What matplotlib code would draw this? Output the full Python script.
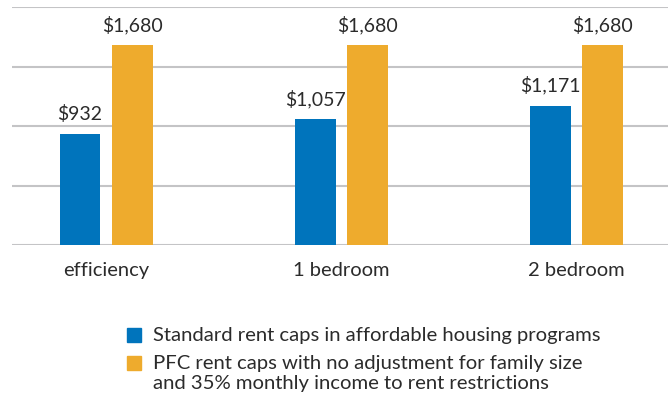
import matplotlib
matplotlib.use("Agg")
import matplotlib.pyplot as plt
import numpy as np
from matplotlib.patches import Rectangle

plt.rcParams["font.family"] = ["Lato", "DejaVu Sans"]

CATEGORIES = ["efficiency", "1 bedroom", "2 bedroom"]
STANDARD = [932, 1057, 1171]
PFC = [1680, 1680, 1680]
SERIES_LABELS = [
    "Standard rent caps in affordable housing programs",
    "PFC rent caps with no adjustment for family size\nand 35% monthly income to rent restrictions",
]
BLUE = "#0074BC"
ORANGE = "#EEAB2D"
TEXT = "#2b2b2b"

W, H = 668, 400
fig = plt.figure(figsize=(W / 100, H / 100), dpi=100)
ax = fig.add_axes([0.018, 0.3875, 0.982, 0.595])

x = np.arange(len(CATEGORIES))
w = 0.174
off = 0.111
b1 = ax.bar(x - off, STANDARD, width=w, color=BLUE, zorder=3)
b2 = ax.bar(x + off, PFC, width=w, color=ORANGE, zorder=3)

for bars, vals in [(b1, STANDARD), (b2, PFC)]:
    for rect, v in zip(bars, vals):
        ax.annotate(f"${v:,}", (rect.get_x() + rect.get_width() / 2, v),
                    xytext=(0, 8), textcoords="offset points",
                    ha="center", va="bottom", fontsize=14, color=TEXT)

ax.set_ylim(0, 2000)
ax.set_xlim(-0.40, 2.39)
ax.set_yticks([0, 500, 1000, 1500, 2000])
ax.set_yticklabels([])
ax.yaxis.grid(True, color="#c4c4c6", linewidth=1.5, zorder=0)
ax.tick_params(axis="y", length=0)
ax.set_xticks(x)
ax.set_xticklabels(CATEGORIES, fontsize=14.5, color=TEXT)
ax.tick_params(axis="x", length=0, pad=12)
for s in ax.spines.values():
    s.set_visible(False)
ax.set_axisbelow(True)

# legend drawn by hand: square + label, in pixel terms
sq = 14
legend_rows = [(BLUE, SERIES_LABELS[0], 328), (ORANGE, SERIES_LABELS[1], 356)]
for color, label, top in legend_rows:
    fig.patches.append(Rectangle((127 / W, 1 - (top + sq) / H), sq / W, sq / H,
                                 transform=fig.transFigure, color=color))
    fig.text(153 / W, 1 - (top - 1) / H, label, ha="left", va="top",
             fontsize=14.6, color=TEXT, linespacing=1.2)

fig.savefig("out.png", dpi=100, facecolor="white")
